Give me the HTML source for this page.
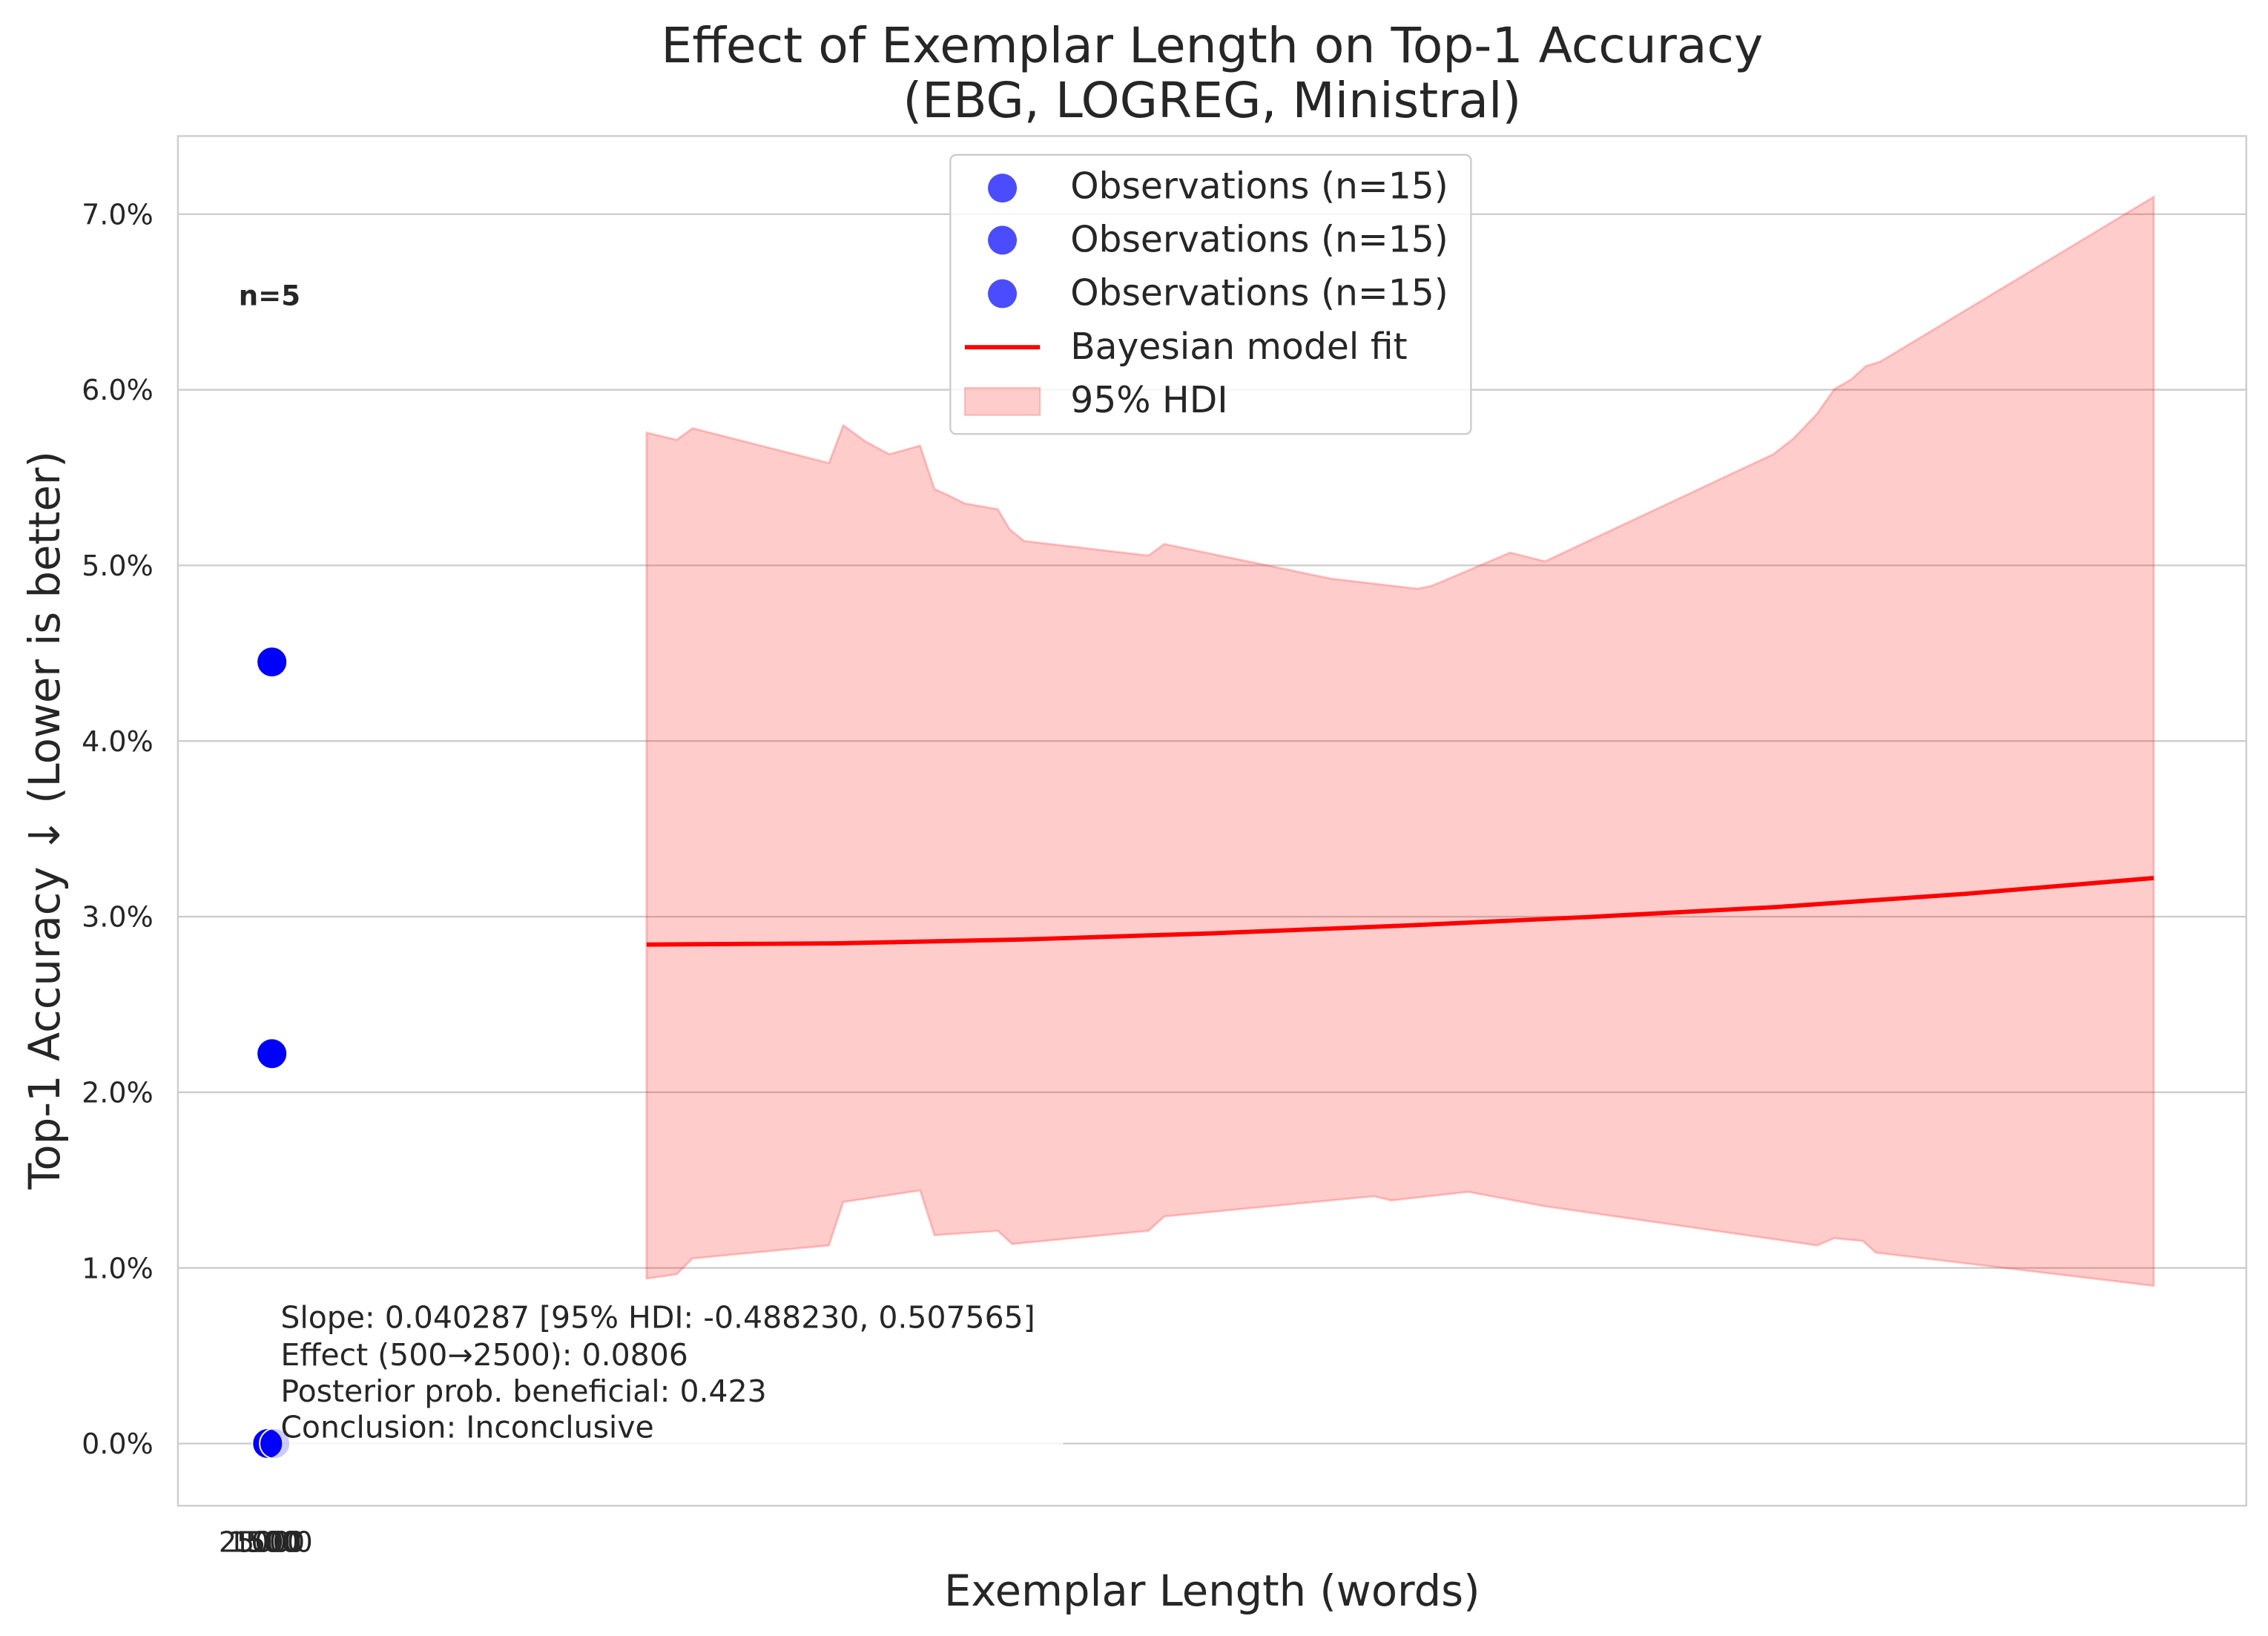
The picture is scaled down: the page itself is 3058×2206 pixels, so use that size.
<!DOCTYPE html>
<html><head><meta charset="utf-8"><style>
html,body{margin:0;padding:0;background:#fff;}
svg{display:block;font-family:"DejaVu Sans","Liberation Sans",sans-serif;}
</style></head><body>
<svg id="chart" width="3058" height="2206" viewBox="0 0 1568 1131" xmlns="http://www.w3.org/2000/svg">
<rect width="1568" height="1131" fill="#fff"/>
<g id="grid"></g>
<g id="band"></g>
<g id="fit"></g>
<rect x="185" y="895" width="550" height="104" fill="#fff" opacity="0.8"/>
<g id="pts"></g>
<rect x="123" y="94" width="1430" height="947" fill="none" stroke="#ccc" stroke-width="1.2"/>
<g id="yticks"></g>
<g id="xticks"></g>
<text x="838" y="43" font-size="34" text-anchor="middle" fill="#262626">Effect of Exemplar Length on Top-1 Accuracy</text>
<text x="838" y="81" font-size="34" text-anchor="middle" fill="#262626">(EBG, LOGREG, Ministral)</text>
<text x="838" y="1110" font-size="29.5" text-anchor="middle" fill="#262626">Exemplar Length (words)</text>
<text transform="translate(41,567) rotate(-90)" font-size="29.5" text-anchor="middle" fill="#262626">Top-1 Accuracy ↓ (Lower is better)</text>
<text x="165" y="211" font-size="19" font-weight="bold" fill="#262626">n=5</text>
<g font-size="21" fill="#262626">
<text x="194" y="918">Slope: 0.040287 [95% HDI: -0.488230, 0.507565]</text>
<text x="194" y="944">Effect (500→2500): 0.0806</text>
<text x="194" y="969">Posterior prob. beneficial: 0.423</text>
<text x="194" y="994">Conclusion: Inconclusive</text>
</g>
<g>
<rect x="657" y="107" width="360" height="193" rx="4" fill="#fff" fill-opacity="0.8" stroke="#ccc" stroke-width="1.2"/>
<circle cx="693" cy="130" r="10" fill="#0000ff" opacity="0.7"/>
<text x="740" y="137" font-size="25" fill="#262626">Observations (n=15)</text>
<circle cx="693" cy="166" r="10" fill="#0000ff" opacity="0.7"/>
<text x="740" y="174" font-size="25" fill="#262626">Observations (n=15)</text>
<circle cx="693" cy="203" r="10" fill="#0000ff" opacity="0.7"/>
<text x="740" y="211" font-size="25" fill="#262626">Observations (n=15)</text>
<line x1="667" y1="240" x2="719" y2="240" stroke="#ff0000" stroke-width="3"/>
<text x="740" y="248" font-size="25" fill="#262626">Bayesian model fit</text>
<rect x="667" y="268" width="52" height="19" fill="#ff0000" fill-opacity="0.2" stroke="#ff0000" stroke-opacity="0.2"/>
<text x="740" y="285" font-size="25" fill="#262626">95% HDI</text>
</g>
</svg>
<script>
const yTicks=[0,1,2,3,4,5,6,7];
const xTickLabels=["2500","1500","1000","500","0"];
const obsX=[500,500,500,2500];
const obsY=[4.45,2.22,0.0,0.0];
const obsAlpha=[1,1,1,0.2];
const upperX=[500,540,561,742,761,790,822,863,882,899,922,966,982,1001,1166,1187,1408,1523,1542,1646,1692,1995,2022,2053,2076,2099,2118,2137,2500];
const upperY=[5.756,5.715,5.781,5.583,5.798,5.707,5.633,5.682,5.435,5.402,5.353,5.320,5.205,5.139,5.056,5.122,4.925,4.867,4.884,5.073,5.023,5.633,5.723,5.863,6.003,6.061,6.135,6.160,7.099];
const lowerX=[500,540,561,742,761,863,882,966,985,1166,1187,1465,1488,1590,1692,2053,2076,2114,2131,2500];
const lowerY=[0.939,0.964,1.054,1.128,1.375,1.441,1.186,1.211,1.136,1.211,1.293,1.408,1.384,1.433,1.351,1.128,1.169,1.153,1.087,0.898];
const fitX=[500,750,1000,1250,1500,1750,2000,2250,2500];
const fitY=[2.841,2.848,2.870,2.905,2.948,2.998,3.055,3.13,3.220];

const NS="http://www.w3.org/2000/svg";
const yS=v=>998-v*121.43;
const xS=w=>447+(w-500)*1042/2000;
const xObs=w=>184+(w-500)*5/2000;
function mk(tag,attrs,parent){const e=document.createElementNS(NS,tag);for(const k in attrs)e.setAttribute(k,attrs[k]);document.getElementById(parent).appendChild(e);return e;}

yTicks.forEach(v=>{
  const g=mk('line',{x1:123,x2:1553,y1:yS(v),y2:yS(v),stroke:'#ccc','stroke-width':1.2},'grid');
  
  
  const t=mk('text',{x:106,y:yS(v)+7,'font-size':19.5,'text-anchor':'end',fill:'#262626'},'yticks');
  t.textContent=v.toFixed(1)+'%';
  
  
});
xTickLabels.forEach((s,i)=>{
  const t=mk('text',{x:[176,182,186,190,210][i],y:1073,'font-size':19.5,'text-anchor':'middle',fill:'#262626'},'xticks');
  t.textContent=s;
  
  
});
let d='M'+upperX.map((x,i)=>xS(x)+','+yS(upperY[i])).join(' L');
for(let i=lowerX.length-1;i>=0;i--) d+=' L'+xS(lowerX[i])+','+yS(lowerY[i]);
d+=' Z';
const band=mk('path',{d:d,fill:'#ff0000','fill-opacity':0.2,stroke:'#ff0000','stroke-opacity':0.2,'stroke-width':1.5},'band');


const fd='M'+fitX.map((x,i)=>xS(x)+','+yS(fitY[i])).join(' L');
const fl=mk('path',{d:fd,fill:'none',stroke:'#ff0000','stroke-width':3},'fit');


obsX.forEach((x,i)=>{
  const c=mk('circle',{cx:0,cy:yS(obsY[i]),r:10.5,fill:'#0000ff','fill-opacity':obsAlpha[i],stroke:'#fff','stroke-width':1},'pts');
  c.setAttribute('cx',i===3?xObs(x)+1:(i===2?xObs(x)+1:xObs(x)+4));
  
  
});
</script>
</body></html>
